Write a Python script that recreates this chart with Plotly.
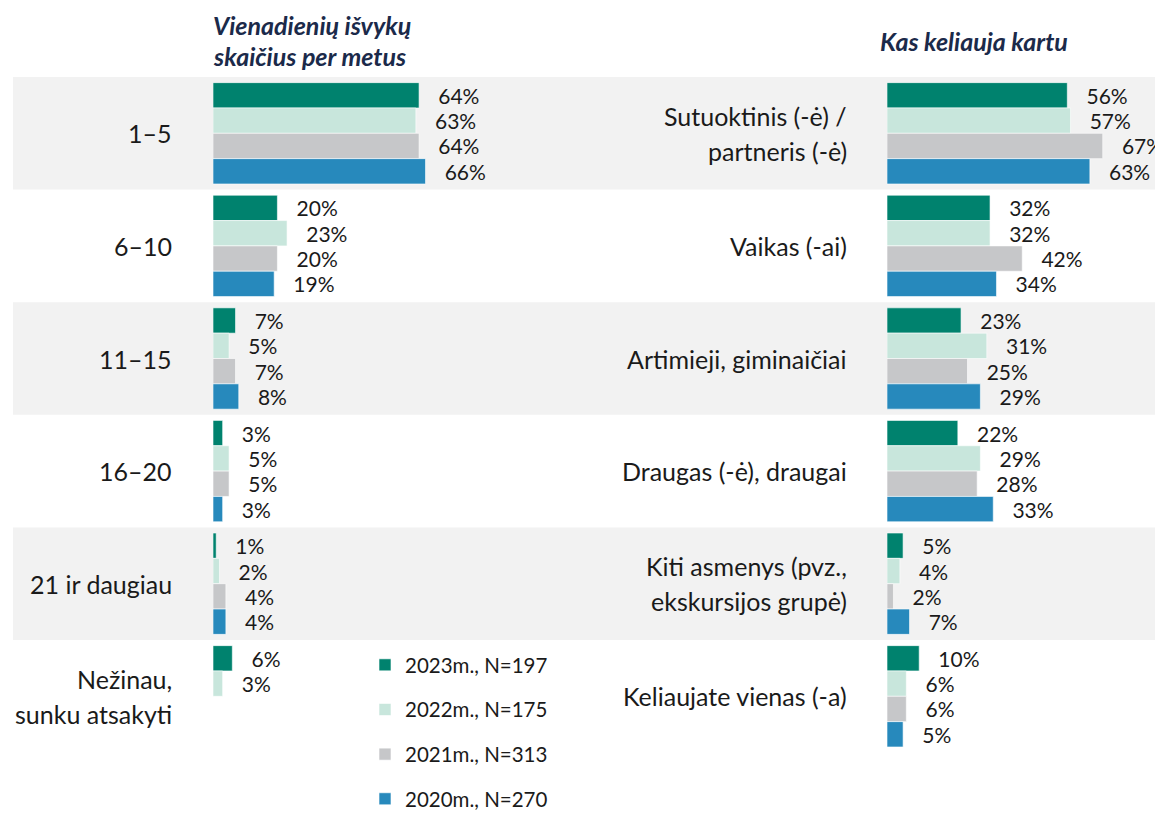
import plotly.graph_objects as go

# ---------------- data ----------------
series_names = ["2023m., N=197", "2022m., N=175", "2021m., N=313", "2020m., N=270"]
series_colors = ["#00826E", "#C8E6DC", "#C6C7C9", "#2789BC"]

left_title = ["Vienadienių išvykų", "skaičius per metus"]
left_categories = ["1–5", "6–10", "11–15", "16–20", "21 ir daugiau", "Nežinau,\nsunku atsakyti"]
left_2023 = [64, 20, 7, 3, 1, 6]
left_2022 = [63, 23, 5, 5, 2, 3]
left_2021 = [64, 20, 7, 5, 4, None]
left_2020 = [66, 19, 8, 3, 4, None]

right_title = ["Kas keliauja kartu"]
right_categories = ["Sutuoktinis (-ė) /\npartneris (-ė)", "Vaikas (-ai)", "Artimieji, giminaičiai",
                    "Draugas (-ė), draugai", "Kiti asmenys (pvz.,\nekskursijos grupė)", "Keliaujate vienas (-a)"]
right_2023 = [56, 32, 23, 22, 5, 10]
right_2022 = [57, 32, 31, 29, 4, 6]
right_2021 = [67, 42, 25, 28, 2, 6]
right_2020 = [63, 34, 29, 33, 7, 5]

left_values = [left_2023, left_2022, left_2021, left_2020]
right_values = [right_2023, right_2022, right_2021, right_2020]

# ---------------- layout constants ----------------
W, H = 1155, 815
FONT = "Lato, 'Open Sans', sans-serif"
TXT = "#1A1A1A"
TITLE_COLOR = "#1B2A4A"
CAT_SIZE = 25
VAL_SIZE = 21
LEG_SIZE = 20.5
TITLE_SIZE = 25

fig = go.Figure()

idx = list(range(len(left_categories)))

def lab(v):
    return "" if v is None else "   " + f"{v}%"

for j, name in enumerate(series_names):
    fig.add_trace(go.Bar(
        x=left_values[j], y=idx, orientation="h", name=name,
        marker=dict(color=series_colors[j], line=dict(color="white", width=0.6)),
        text=[lab(v) for v in left_values[j]], textposition="outside",
        textfont=dict(family=FONT, size=VAL_SIZE, color=TXT), constraintext="none",
        cliponaxis=False, legendgroup=name, xaxis="x", yaxis="y",
        hoverinfo="skip",
    ))
for j, name in enumerate(series_names):
    fig.add_trace(go.Bar(
        x=right_values[j], y=idx, orientation="h", name=name,
        marker=dict(color=series_colors[j], line=dict(color="white", width=0.6)),
        text=[lab(v) for v in right_values[j]], textposition="outside",
        textfont=dict(family=FONT, size=VAL_SIZE, color=TXT), constraintext="none",
        cliponaxis=False, legendgroup=name, showlegend=False, xaxis="x2", yaxis="y2",
        hoverinfo="skip",
    ))

y_top = 1 - 77 / H
y_bot = 1 - 752.6 / H
ydom = [y_bot, y_top]

# shaded bands (rows 0,2,4)
shapes = []
for i in idx:
    if i % 2 == 0:
        shapes.append(dict(type="rect", xref="paper", yref="y", x0=13 / W, x1=1,
                           y0=i - 0.5, y1=i + 0.5, fillcolor="#F2F2F2",
                           line=dict(width=0), layer="below"))

annotations = []

def cat_labels(cats, xpx):
    for i, c in enumerate(cats):
        lines = c.split("\n")
        n = len(lines)
        for k, ln in enumerate(lines):
            shift = ((n - 1) / 2 - k) * 35
            annotations.append(dict(text=ln, xref="paper", yref="y", x=xpx / W, y=i,
                                    xanchor="right", yanchor="middle", yshift=shift,
                                    showarrow=False,
                                    font=dict(family=FONT, size=CAT_SIZE, color=TXT)))

cat_labels(left_categories, 174)
cat_labels(right_categories, 849)

for k, t in enumerate(left_title):
    annotations.append(dict(text=f"<b><i>{t}</i></b>", xref="paper", yref="paper",
                            x=211 / W, y=1 - (25 + 31 * k) / H, xanchor="left", yanchor="middle",
                            showarrow=False, font=dict(family=FONT, size=TITLE_SIZE, color=TITLE_COLOR)))
annotations.append(dict(text=f"<b><i>{right_title[0]}</i></b>", xref="paper", yref="paper",
                        x=878 / W, y=1 - 41 / H, xanchor="left", yanchor="middle",
                        showarrow=False, font=dict(family=FONT, size=TITLE_SIZE, color=TITLE_COLOR)))

fig.update_layout(
    width=W, height=H,
    margin=dict(l=0, r=0, t=0, b=0, autoexpand=False),
    paper_bgcolor="white", plot_bgcolor="rgba(0,0,0,0)",
    barmode="group", bargap=0.1, bargroupgap=0,
    showlegend=True,
    legend=dict(x=(405 - 40) / W, y=1 - 645 / H, xanchor="left", yanchor="top",
                traceorder="grouped", tracegroupgap=15, bgcolor="rgba(0,0,0,0)",
                font=dict(family=FONT, size=LEG_SIZE, color=TXT)),
    xaxis=dict(domain=[213 / W, 600 / W], range=[0, 387 / 3.22], visible=False, fixedrange=True),
    xaxis2=dict(domain=[887 / W, 1.0], range=[0, 268 / 3.22], visible=False, fixedrange=True, anchor="y2"),
    yaxis=dict(domain=ydom, range=[5.5, -0.5], visible=False, fixedrange=True),
    yaxis2=dict(domain=ydom, range=[5.5, -0.5], visible=False, fixedrange=True, anchor="x2"),
    shapes=shapes, annotations=annotations,
    font=dict(family=FONT),
)

fig.write_html("out.html", config={"displayModeBar": False},
               post_script="document.body.style.margin='0';document.body.style.overflow='hidden';")
